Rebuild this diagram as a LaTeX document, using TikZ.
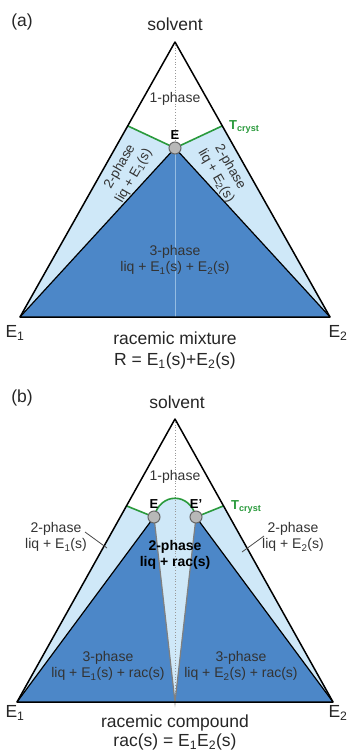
\documentclass[tikz,border=0pt]{standalone}
\usepackage{fontspec}
\setmainfont{Liberation Sans}
\usetikzlibrary{calc, positioning}
\definecolor{phaselight}{HTML}{CFE8F8}
\definecolor{phasedark}{HTML}{4C87C8}
\definecolor{cryst}{HTML}{2A9A3C}
\definecolor{nodegray}{HTML}{B8B8B8}
\newcommand{\lsub}[1]{\textsubscript{#1}}

\begin{document}
\begin{tikzpicture}[x=1pt, y=-1pt,
        big/.style = {font=\fontsize{17.5}{20}\selectfont, text=black!85},
        phase/.style = {font=\fontsize{14}{16.5}\selectfont, align=center, text=black!80, inner sep=1pt},
        slant/.style = {phase, font=\fontsize{13.5}{16}\selectfont, inner sep=0pt},
        edge/.style = {draw=black, line width=1.5pt, line join=round},
        tie/.style = {draw=black, line width=1.2pt},
        wedge/.style = {draw=gray, line width=1.2pt},
        crystline/.style = {draw=cryst, line width=1.6pt},
        axis/.style = {draw=gray!80, dotted, line width=0.8pt},
        eut/.style = {circle, fill=nodegray, draw=black!60, line width=1pt, minimum size=12pt, inner sep=0pt},
        eutlabel/.style = {font=\fontsize{13}{15}\selectfont\bfseries, text=black, inner sep=1pt},
        tlabel/.style = {font=\fontsize{13}{15}\selectfont\bfseries, text=cryst, anchor=west, inner sep=1pt},
        leader/.style = {draw=black!70, line width=0.8pt}
    ]

        \useasboundingbox (0,0) rectangle (354,753);

        % (a) racemic mixture
        \coordinate (aA) at (175,42);
        \coordinate (aL) at (20,317);
        \coordinate (aR) at (330,317);
        \coordinate (aM) at (175,317);
        \coordinate (aE) at (175,148);
        \coordinate (aTl) at ($(aL)!0.695!(aA)$);
        \coordinate (aTr) at ($(aR)!0.695!(aA)$);

        \fill [phaselight] (aTl) -- (aE) -- (aTr) -- (aR) -- (aL) -- cycle;
        \fill [phasedark] (aE) -- (aR) -- (aL) -- cycle;
        \draw [axis] (aA) -- (aE);
        \draw [draw=phaselight!55!phasedark, line width=0.6pt] (aE) -- (aM);
        \draw [tie] (aL) -- (aE) -- (aR);
        \draw [crystline] (aTl) -- (aE) -- (aTr);
        \draw [edge] (aA) -- (aL) -- (aR) -- cycle;
        \node (aEut) [eut] at (aE) {};
        \node (aElab) [eutlabel, above=1pt of aEut] {E};

        \node (apanel) [big] at (22,22) {(a)};
        \node (asolv) [big] at (175,24) {solvent};
        \node (acryst) [tlabel] at (228,127) {T\lsub{cryst}};
        \node (aone) [phase] at (175,99) {1-phase};
        \node (atwol) [slant, rotate=60] at (120,167) {2-phase};
        \node (atwolb) [slant, rotate=60] at (134,176) {liq + E\lsub{1}(s)};
        \node (atwor) [slant, rotate=-60] at (230,167) {2-phase};
        \node (atworb) [slant, rotate=-60] at (216,176) {liq + E\lsub{2}(s)};
        \node (athree) [phase] at (175,260) {3-phase\\liq + E\lsub{1}(s) + E\lsub{2}(s)};
        \node (aEone) [big] at (15,333) {E\lsub{1}};
        \node (aEtwo) [big] at (338,333) {E\lsub{2}};
        \node (amix) [big] at (175,338) {racemic mixture};
        \node (aR) [big] at (175,361) {R = E\lsub{1}(s)+E\lsub{2}(s)};

        % (b) racemic compound
        \coordinate (bA) at (175,419);
        \coordinate (bL) at (17,702);
        \coordinate (bR) at (333,702);
        \coordinate (bM) at (175,702);
        \coordinate (bE) at (154,517);
        \coordinate (bEp) at (196,517);
        \coordinate (bTl) at ($(bL)!0.693!(bA)$);
        \coordinate (bTr) at ($(bR)!0.693!(bA)$);

        \fill [phaselight] (bTl) -- (bE) .. controls (160,492) and (190,492) .. (bEp) -- (bTr) -- (bR) -- (bL) -- cycle;
        \fill [phasedark] (bE) -- (bM) -- (bL) -- cycle;
        \fill [phasedark] (bEp) -- (bM) -- (bR) -- cycle;
        \draw [axis] (bA) -- (bM);
        \draw [wedge] (bE) -- (bM) -- (bEp);
        \draw [tie] (bL) -- (bE);
        \draw [tie] (bEp) -- (bR);
        \draw [crystline] (bTl) -- (bE) .. controls (160,492) and (190,492) .. (bEp) -- (bTr);
        \draw [edge] (bA) -- (bL) -- (bR) -- cycle;
        \node (bEut) [eut] at (bE) {};
        \node (bEput) [eut] at (bEp) {};
        \node (bElab) [eutlabel, above=1pt of bEut] {E};
        \node (bEplab) [eutlabel, above=1pt of bEput] {E’};

        \node (bpanel) [big] at (22,398) {(b)};
        \node (bsolv) [big] at (177,402) {solvent};
        \node (bcryst) [tlabel] at (230,507) {T\lsub{cryst}};
        \node (bone) [phase] at (175,477) {1-phase};
        \node (btwoc) [phase, font=\fontsize{14}{16.5}\selectfont\bfseries, text=black] at (175,555) {2-phase\\liq + rac(s)};
        \node (btwol) [phase] at (56,537) {2-phase\\liq + E\lsub{1}(s)};
        \node (btwor) [phase] at (293,537) {2-phase\\liq + E\lsub{2}(s)};
        \node (bthreel) [phase] at (108,666) {3-phase\\liq + E\lsub{1}(s) + rac(s)};
        \node (bthreer) [phase] at (241,666) {3-phase\\liq + E\lsub{2}(s) + rac(s)};
        \node (bEone) [big] at (15,713) {E\lsub{1}};
        \node (bEtwo) [big] at (338,713) {E\lsub{2}};
        \node (bcomp) [big] at (175,723) {racemic compound};
        \node (brac) [big] at (175,742) {rac(s) = E\lsub{1}E\lsub{2}(s)};

        % leaders
        \coordinate (lla) at (85,532);
        \coordinate (llb) at (107,548);
        \coordinate (lra) at (264,536);
        \coordinate (lrb) at (242,552);
        \draw [leader] (lla) -- (llb);
        \draw [leader] (lra) -- (lrb);

    \end{tikzpicture}
\end{document}
